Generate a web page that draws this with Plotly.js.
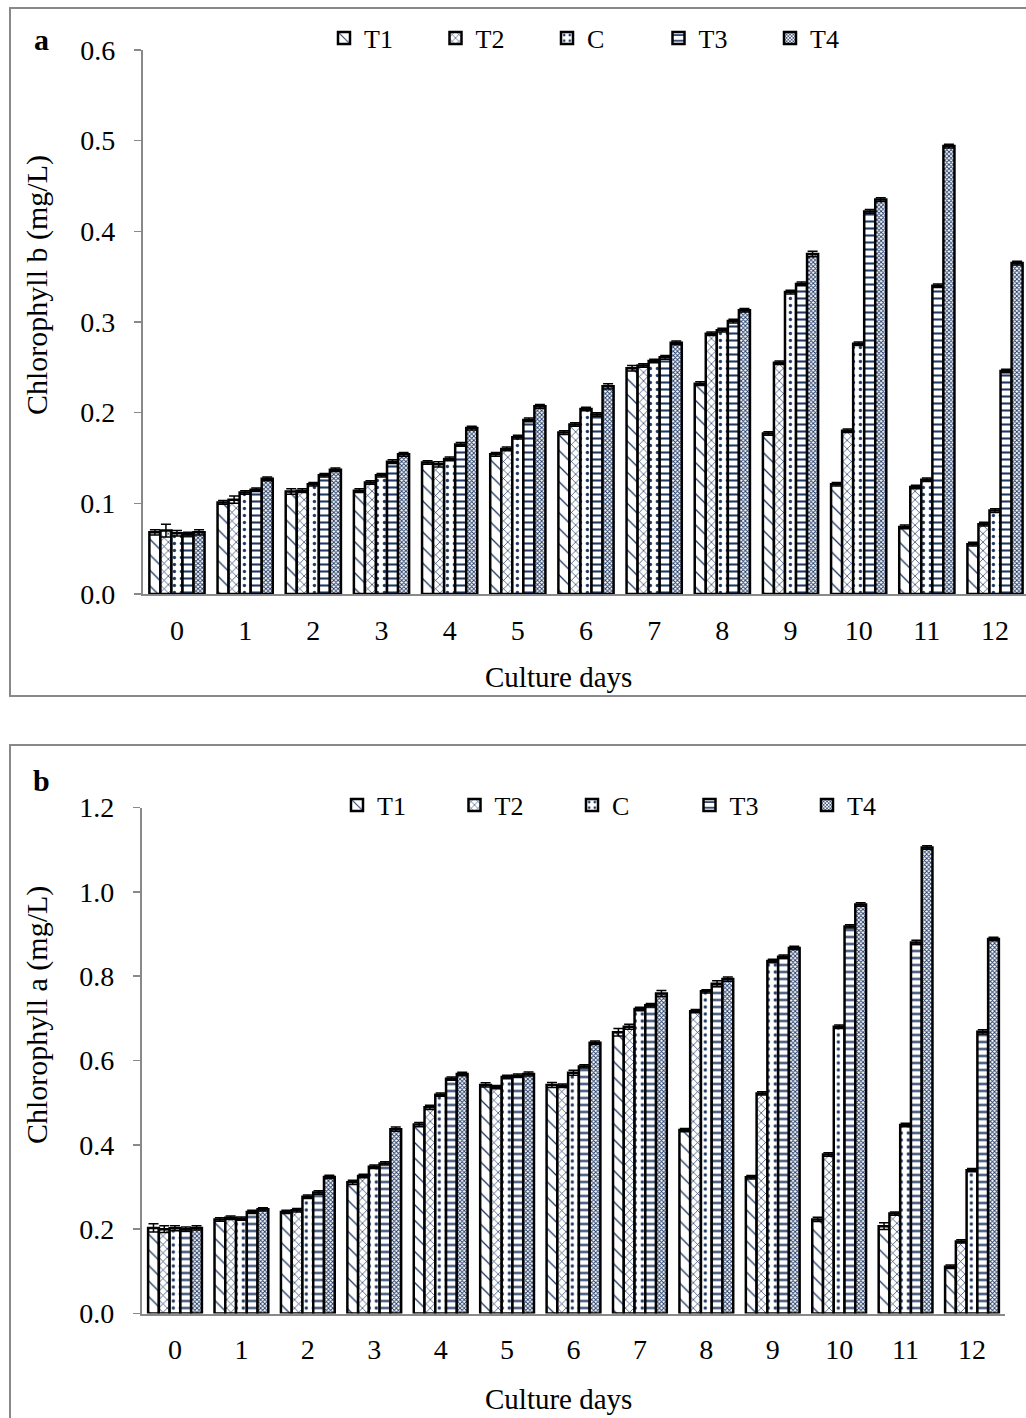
<!DOCTYPE html>
<html>
<head>
<meta charset="utf-8">
<script src="https://cdn.plot.ly/plotly-3.0.1.min.js"></script>
<style>
html, body { margin:0; padding:0; overflow:hidden; background:#fff; }
#chart { width:1060px; height:1418px; }
</style>
</head>
<body>
<div id="chart"></div>
<script>
// ---------- DATA ----------
const days = [0,1,2,3,4,5,6,7,8,9,10,11,12];
const seriesNames = ["T1","T2","C","T3","T4"];

// Panel a: Chlorophyll b (mg/L)
const chlB_T1 = [0.068,0.101,0.113,0.114,0.145,0.154,0.178,0.249,0.232,0.177,0.121,0.074,0.055];
const chlB_T2 = [0.070,0.104,0.114,0.123,0.143,0.160,0.187,0.252,0.287,0.255,0.180,0.118,0.077];
const chlB_C  = [0.067,0.112,0.121,0.131,0.149,0.173,0.204,0.257,0.291,0.333,0.276,0.126,0.092];
const chlB_T3 = [0.066,0.115,0.131,0.146,0.165,0.192,0.198,0.261,0.301,0.342,0.422,0.340,0.246];
const chlB_T4 = [0.068,0.127,0.137,0.154,0.183,0.207,0.229,0.277,0.313,0.375,0.435,0.494,0.365];
const errB_T1 = [0.003,0.002,0.003,0.002,0.002,0.002,0.002,0.003,0.002,0.002,0.002,0.002,0.002];
const errB_T2 = [0.007,0.004,0.002,0.002,0.003,0.002,0.002,0.002,0.002,0.002,0.002,0.002,0.002];
const errB_C  = [0.003,0.002,0.002,0.002,0.002,0.002,0.002,0.002,0.002,0.002,0.002,0.002,0.002];
const errB_T3 = [0.002,0.002,0.002,0.002,0.002,0.002,0.002,0.002,0.002,0.002,0.002,0.002,0.002];
const errB_T4 = [0.003,0.002,0.002,0.002,0.002,0.002,0.003,0.002,0.002,0.003,0.002,0.002,0.002];

// Panel b: Chlorophyll a (mg/L)
const chlA_T1 = [0.203,0.223,0.241,0.311,0.448,0.542,0.542,0.667,0.435,0.323,0.223,0.207,0.111];
const chlA_T2 = [0.200,0.227,0.245,0.326,0.489,0.537,0.540,0.680,0.717,0.522,0.377,0.237,0.171];
const chlA_C  = [0.202,0.225,0.277,0.348,0.519,0.561,0.571,0.722,0.764,0.836,0.680,0.447,0.340];
const chlA_T3 = [0.200,0.241,0.287,0.356,0.557,0.564,0.586,0.731,0.782,0.846,0.918,0.880,0.668];
const chlA_T4 = [0.203,0.247,0.324,0.437,0.568,0.568,0.642,0.759,0.793,0.867,0.970,1.105,0.888];
const errA_T1 = [0.010,0.004,0.004,0.005,0.005,0.005,0.006,0.009,0.004,0.004,0.005,0.008,0.004];
const errA_T2 = [0.008,0.004,0.004,0.004,0.005,0.004,0.004,0.006,0.004,0.004,0.004,0.004,0.004];
const errA_C  = [0.006,0.004,0.004,0.004,0.004,0.004,0.006,0.004,0.004,0.004,0.004,0.004,0.004];
const errA_T3 = [0.005,0.004,0.004,0.004,0.004,0.004,0.004,0.004,0.007,0.004,0.004,0.005,0.005];
const errA_T4 = [0.005,0.004,0.004,0.005,0.004,0.005,0.004,0.007,0.005,0.004,0.004,0.004,0.004];

// ---------- STYLE ----------
const W = 1060, H = 1418;
const px = x => x / W;
const py = y => 1 - y / H;
const NAVY = "#1f3864";
const FONT = "Liberation Serif, Times New Roman, serif";
const patterns = {
  T1: {shape:"\\", size:11, solidity:0.12},
  T2: {shape:"x", size:6, solidity:0.22},
  C:  {shape:".", size:7, solidity:0.18},
  T3: {shape:"-", size:7, solidity:0.3},
  T4: {shape:"x", size:3, solidity:0.5}
};

function makeTrace(name, y, err, xa, ya, legend) {
  const p = patterns[name];
  return {
    type:"bar", name:name, x:days, y:y,
    xaxis:xa, yaxis:ya, legend:legend, showlegend:true,
    marker:{
      color:"#ffffff",
      line:{color:"#000000", width:2.5},
      pattern:{shape:p.shape, size:p.size, solidity:p.solidity, fgcolor:NAVY, bgcolor:"#ffffff", fillmode:"replace"}
    },
    error_y:{type:"data", array:err, visible:true, color:"#000000", thickness:1.5, width:5},
    hoverinfo:"skip"
  };
}

const dataA = [chlB_T1, chlB_T2, chlB_C, chlB_T3, chlB_T4];
const errsA = [errB_T1, errB_T2, errB_C, errB_T3, errB_T4];
const dataB = [chlA_T1, chlA_T2, chlA_C, chlA_T3, chlA_T4];
const errsB = [errA_T1, errA_T2, errA_C, errA_T3, errA_T4];

const traces = [];
seriesNames.forEach((n,i) => traces.push(makeTrace(n, dataA[i], errsA[i], "x", "y", "legend")));
seriesNames.forEach((n,i) => traces.push(makeTrace(n, dataB[i], errsB[i], "x2", "y2", "legend2")));

const axisGray = "#898989";
const tickFont = {family:FONT, size:28, color:"#000"};

const xCommon = {
  type:"linear", tickmode:"array", tickvals:days, ticktext:days.map(String),
  range:[-0.5,12.5], showline:true, linecolor:axisGray, linewidth:2,
  ticks:"", showgrid:false, zeroline:false, tickfont:tickFont, ticklabelstandoff:10, fixedrange:true
};
const yCommon = {
  showline:true, linecolor:axisGray, linewidth:2, ticks:"outside", ticklen:7, tickcolor:axisGray, tickwidth:1.5,
  showgrid:false, zeroline:false, tickfont:tickFont, ticklabelstandoff:13, fixedrange:true
};

const txt = (text, x, y, size, angle) => ({
  text:text, xref:"paper", yref:"paper", x:px(x), y:py(y), xanchor:"center", yanchor:"middle",
  textangle:angle || 0, showarrow:false, font:{family:FONT, size:size, color:"#000"}
});

const layout = {
  width:W, height:H, margin:{l:0,r:0,t:0,b:0},
  paper_bgcolor:"#fff", plot_bgcolor:"#fff",
  barmode:"group", bargap:0.19, bargroupgap:0,
  font:{family:FONT, color:"#000"},
  xaxis: Object.assign({}, xCommon, {domain:[px(142.9), px(1029.1)], anchor:"y"}),
  yaxis: Object.assign({}, yCommon, {domain:[py(594), py(50)], range:[0,0.6], tickvals:[0,0.1,0.2,0.3,0.4,0.5,0.6], ticktext:["0.0","0.1","0.2","0.3","0.4","0.5","0.6"], anchor:"x"}),
  xaxis2: Object.assign({}, xCommon, {domain:[px(141.8), px(1005.2)], anchor:"y2"}),
  yaxis2: Object.assign({}, yCommon, {domain:[py(1313.5), py(807.5)], range:[0,1.2], tickvals:[0,0.2,0.4,0.6,0.8,1.0,1.2], ticktext:["0.0","0.2","0.4","0.6","0.8","1.0","1.2"], anchor:"x2"}),
  legend:{orientation:"h", x:px(324), xanchor:"left", y:py(38), yanchor:"middle",
          font:{family:FONT, size:26, color:"#000"}, bgcolor:"rgba(0,0,0,0)",
          entrywidth:66.5, entrywidthmode:"pixels", itemwidth:30, traceorder:"normal"},
  legend2:{orientation:"h", x:px(337), xanchor:"left", y:py(805), yanchor:"middle",
          font:{family:FONT, size:26, color:"#000"}, bgcolor:"rgba(0,0,0,0)",
          entrywidth:72.5, entrywidthmode:"pixels", itemwidth:30, traceorder:"normal"},
  shapes:[
    {type:"rect", xref:"paper", yref:"paper", x0:px(10), x1:px(1055), y0:py(696), y1:py(8), line:{color:axisGray, width:2}, fillcolor:"rgba(0,0,0,0)", layer:"below"},
    {type:"rect", xref:"paper", yref:"paper", x0:px(10), x1:px(1055), y0:py(1440), y1:py(745), line:{color:axisGray, width:2}, fillcolor:"rgba(0,0,0,0)", layer:"below"}
  ],
  annotations:[
    txt("<b>a</b>", 41, 40, 30),
    txt("<b>b</b>", 41, 780, 30),
    txt("Chlorophyll b (mg/L)", 37, 285, 30, -90),
    txt("Chlorophyll a (mg/L)", 37, 1015, 30, -90),
    txt("Culture days", 558, 677, 29),
    txt("Culture days", 558, 1399, 29)
  ]
};

Plotly.newPlot("chart", traces, layout, {staticPlot:true, displayModeBar:false});
</script>
</body>
</html>
